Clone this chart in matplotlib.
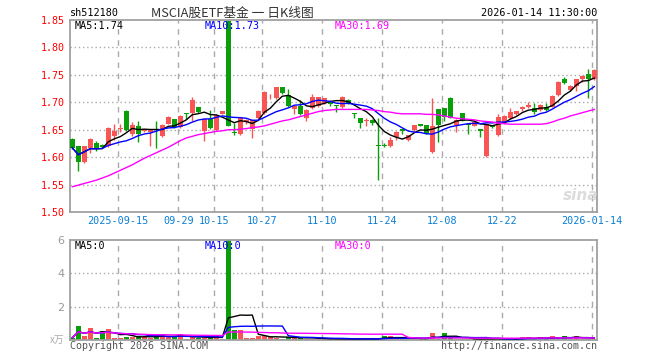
import numpy as np
import pandas as pd
import matplotlib
matplotlib.use("Agg")
import matplotlib.pyplot as plt

# ---------------- data ----------------
opens = [1.633, 1.620, 1.591, 1.617, 1.626, 1.623, 1.620, 1.638, 1.651, 1.685,
         1.642, 1.657, 1.648, 1.645, 1.650, 1.638, 1.661, 1.669, 1.655, 1.680,
         1.681, 1.691, 1.648, 1.669, 1.650, 1.679, 1.848, 1.645, 1.642, 1.664,
         1.652, 1.671, 1.680, 1.707, 1.707, 1.727, 1.713, 1.687, 1.694, 1.672,
         1.690, 1.693, 1.698, 1.701, 1.694, 1.691, 1.704, 1.679, 1.671, 1.665,
         1.668, 1.622, 1.622, 1.620, 1.637, 1.651, 1.632, 1.649, 1.660, 1.658,
         1.609, 1.687, 1.689, 1.708, 1.658, 1.680, 1.661, 1.657, 1.651, 1.602,
         1.658, 1.641, 1.662, 1.671, 1.678, 1.688, 1.691, 1.689, 1.686, 1.692,
         1.692, 1.713, 1.742, 1.722, 1.730, 1.742, 1.751, 1.742]
highs = [1.634, 1.621, 1.621, 1.634, 1.629, 1.624, 1.655, 1.660, 1.661, 1.686,
         1.664, 1.666, 1.652, 1.651, 1.666, 1.660, 1.675, 1.670, 1.677, 1.681,
         1.710, 1.692, 1.671, 1.686, 1.678, 1.685, 1.850, 1.662, 1.672, 1.670,
         1.670, 1.686, 1.720, 1.716, 1.728, 1.728, 1.725, 1.694, 1.704, 1.687,
         1.715, 1.710, 1.708, 1.703, 1.695, 1.711, 1.706, 1.680, 1.672, 1.672,
         1.669, 1.671, 1.625, 1.637, 1.647, 1.652, 1.641, 1.659, 1.661, 1.659,
         1.708, 1.688, 1.690, 1.709, 1.669, 1.681, 1.662, 1.665, 1.652, 1.662,
         1.659, 1.679, 1.676, 1.689, 1.685, 1.694, 1.701, 1.698, 1.696, 1.699,
         1.713, 1.738, 1.746, 1.731, 1.743, 1.749, 1.760, 1.760]
lows = [1.615, 1.575, 1.590, 1.608, 1.612, 1.617, 1.618, 1.631, 1.645, 1.648,
        1.638, 1.627, 1.646, 1.620, 1.617, 1.636, 1.660, 1.654, 1.653, 1.670,
        1.665, 1.680, 1.630, 1.651, 1.648, 1.678, 1.656, 1.640, 1.640, 1.661,
        1.635, 1.670, 1.679, 1.706, 1.706, 1.716, 1.692, 1.679, 1.677, 1.665,
        1.688, 1.692, 1.697, 1.693, 1.682, 1.690, 1.696, 1.672, 1.654, 1.657,
        1.658, 1.559, 1.618, 1.619, 1.631, 1.643, 1.630, 1.648, 1.656, 1.642,
        1.607, 1.628, 1.665, 1.671, 1.646, 1.665, 1.643, 1.656, 1.637, 1.600,
        1.654, 1.639, 1.661, 1.670, 1.677, 1.684, 1.689, 1.679, 1.685, 1.684,
        1.691, 1.712, 1.733, 1.721, 1.720, 1.737, 1.707, 1.741]
closes = [1.617, 1.592, 1.620, 1.633, 1.614, 1.619, 1.654, 1.647, 1.653, 1.649,
          1.659, 1.643, 1.651, 1.650, 1.649, 1.658, 1.673, 1.655, 1.675, 1.679,
          1.705, 1.682, 1.669, 1.653, 1.676, 1.684, 1.657, 1.644, 1.671, 1.668,
          1.667, 1.685, 1.718, 1.708, 1.727, 1.717, 1.693, 1.693, 1.679, 1.686,
          1.709, 1.709, 1.707, 1.697, 1.693, 1.710, 1.697, 1.678, 1.663, 1.667,
          1.663, 1.620, 1.621, 1.631, 1.646, 1.647, 1.640, 1.658, 1.657, 1.643,
          1.657, 1.658, 1.674, 1.672, 1.668, 1.666, 1.658, 1.664, 1.648, 1.661,
          1.655, 1.673, 1.675, 1.683, 1.684, 1.691, 1.695, 1.682, 1.695, 1.686,
          1.712, 1.737, 1.736, 1.730, 1.742, 1.748, 1.742, 1.759]
volumes = [0.14, 0.84, 0.24, 0.72, 0.14, 0.54, 0.66, 0.14, 0.14, 0.20,
           0.20, 0.24, 0.20, 0.14, 0.20, 0.36, 0.20, 0.20, 0.36, 0.06,
           0.20, 0.10, 0.20, 0.16, 0.20, 0.08, 6.00, 0.60, 0.60, 0.14,
           0.14, 0.24, 0.24, 0.20, 0.14, 0.08, 0.20, 0.14, 0.14, 0.08,
           0.08, 0.08, 0.08, 0.06, 0.06, 0.06, 0.06, 0.06, 0.08, 0.06,
           0.06, 0.10, 0.24, 0.24, 0.08, 0.06, 0.10, 0.16, 0.06, 0.06,
           0.44, 0.08, 0.44, 0.10, 0.08, 0.06, 0.06, 0.06, 0.06, 0.10,
           0.06, 0.08, 0.06, 0.06, 0.06, 0.16, 0.16, 0.06, 0.16, 0.06,
           0.24, 0.08, 0.24, 0.08, 0.24, 0.08, 0.08, 0.08]
ma30 = [1.546, 1.549, 1.552, 1.555, 1.558, 1.562, 1.566, 1.571, 1.576, 1.581,
        1.586, 1.592, 1.598, 1.603, 1.608, 1.613, 1.618, 1.624, 1.630, 1.635,
        1.638, 1.641, 1.643, 1.645, 1.647, 1.648, 1.650, 1.650, 1.651, 1.652,
        1.654, 1.655, 1.657, 1.660, 1.663, 1.666, 1.668, 1.671, 1.674, 1.677,
        1.680, 1.683, 1.685, 1.686, 1.687, 1.687, 1.687, 1.687, 1.687, 1.687,
        1.686, 1.685, 1.683, 1.682, 1.680, 1.679, 1.679, 1.679, 1.679, 1.678,
        1.678, 1.677, 1.675, 1.673, 1.671, 1.670, 1.669, 1.668, 1.666, 1.665,
        1.664, 1.662, 1.661, 1.660, 1.660, 1.660, 1.660, 1.660, 1.660, 1.661,
        1.664, 1.668, 1.671, 1.675, 1.678, 1.681, 1.684, 1.687]
holidays = ["2025-10-01", "2025-10-02", "2025-10-03", "2025-10-06",
            "2025-10-07", "2025-10-08", "2026-01-01", "2026-01-02"]
tick_dates = ["2025-09-15", "2025-09-29", "2025-10-15", "2025-10-27", "2025-11-10",
              "2025-11-24", "2025-12-08", "2025-12-22", "2026-01-14"]
tick_labels = ["2025-09-15", "09-29", "10-15", "10-27", "11-10",
               "11-24", "12-08", "12-22", "2026-01-14"]
price_ticks = [1.50, 1.55, 1.60, 1.65, 1.70, 1.75, 1.80, 1.85]
vol_ticks = [2, 4, 6]

# ---------------- derived ----------------
dates = [d.strftime("%Y-%m-%d") for d in pd.bdate_range("2025-09-03", "2026-01-14")
         if d.strftime("%Y-%m-%d") not in holidays]
n = len(closes)
x = np.arange(n)
o = np.array(opens); h = np.array(highs); l = np.array(lows); c = np.array(closes)
v = np.array(volumes)
ma5 = pd.Series(c).rolling(5, min_periods=1).mean()
ma10 = pd.Series(c).rolling(10, min_periods=1).mean()
vma5 = pd.Series(v).rolling(5, min_periods=1).mean()
vma10 = pd.Series(v).rolling(10, min_periods=1).mean()
vma30 = pd.Series(v).rolling(30, min_periods=1).mean()
tick_pos = [dates.index(d) - 0.35 for d in tick_dates]

RED = "#fa5555"
GREEN = "#0a9e0a"
GRID = "#aaaaaa"
SPINE = "#a0a0a0"
MONO = "DejaVu Sans Mono"
up = c >= o
cols = np.where(up, RED, GREEN)

W, H = 660, 360
fig = plt.figure(figsize=(6.6, 3.6), dpi=100)
fig.patch.set_facecolor("white")


def rect(lft, top, rgt, bot):
    return [lft / W, 1 - bot / H, (rgt - lft) / W, (bot - top) / H]


def ftext(px, py, s, **kw):
    fig.text(px / W, 1 - py / H, s, **kw)


ax = fig.add_axes(rect(70, 20, 597, 212))
axv = fig.add_axes(rect(70, 240, 597, 340))
xlim = (-0.383, 87.45)

for a in (ax, axv):
    a.set_xlim(*xlim)
    for s in a.spines.values():
        s.set_color(SPINE)
        s.set_linewidth(1.3)
    for tp in tick_pos:
        a.axvline(tp, color=GRID, lw=1, ls=(0, (4, 4)), zorder=0)

# ---- price panel ----
ax.set_ylim(1.50, 1.85)
for yv in price_ticks[1:-1]:
    ax.axhline(yv, color=GRID, lw=1, ls=(0, (1, 2)), zorder=0)
ax.vlines(x, l, h, colors=cols, lw=1, zorder=2)
body = np.maximum(np.abs(c - o), 0.0016)
ax.bar(x, body, bottom=np.minimum(o, c), width=0.8, color=cols, lw=0, zorder=3)
ax.plot(x, ma5, color="black", lw=1, zorder=4)
ax.plot(x, ma10, color="#0000ff", lw=1, zorder=4)
ax.plot(x, ma30, color="#ff00ff", lw=1, zorder=4)
ax.set_yticks(price_ticks)
ax.set_yticklabels([f"{t:.2f}" for t in price_ticks])
ax.tick_params(axis="y", length=0, pad=4, labelcolor="#ff0000", labelsize=7.2)
for t in ax.get_yticklabels():
    t.set_fontfamily(MONO)
ax.set_xticks(tick_pos)
ax.set_xticklabels(tick_labels)
ax.tick_params(axis="x", length=0, pad=3, labelcolor="#0a7fd4", labelsize=7.3)
for t in ax.get_xticklabels():
    t.set_fontfamily(MONO)

# ---- volume panel ----
axv.set_ylim(0, 6)
for yv in vol_ticks[:-1]:
    axv.axhline(yv, color=GRID, lw=1, ls=(0, (1, 2)), zorder=0)
axv.bar(x, v, width=0.8, color=cols, lw=0, zorder=2)
axv.plot(x, vma5, color="black", lw=1, zorder=3)
axv.plot(x, vma10, color="#0000ff", lw=1, zorder=3)
axv.plot(x, vma30, color="#ff00ff", lw=1, zorder=3)
axv.set_yticks(vol_ticks)
axv.set_yticklabels([str(t) for t in vol_ticks])
axv.tick_params(axis="y", length=0, pad=4, labelcolor="#999999", labelsize=8)
axv.set_xticks([])

# ---- texts ----
ftext(70, 13, "sh512180", fontsize=7.3, family=MONO, va="center", ha="left")
ftext(232, 13, "MSCIA股ETF基金 一 日K线图", fontsize=9.2,
      family=["Noto Sans CJK SC", "DejaVu Sans"], va="center", ha="center", color="#333333")
ftext(597, 13, "2026-01-14 11:30:00", fontsize=7.3, family=MONO, va="center", ha="right")

ftext(75, 26, "MA5:1.74", fontsize=7.3, family=MONO, va="center", color="black")
ftext(205, 26, "MA10:1.73", fontsize=7.3, family=MONO, va="center", color="#0000ff")
ftext(335, 26, "MA30:1.69", fontsize=7.3, family=MONO, va="center", color="#ff00ff")
ftext(75, 246, "MA5:0", fontsize=7.3, family=MONO, va="center", color="black")
ftext(205, 246, "MA10:0", fontsize=7.3, family=MONO, va="center", color="#0000ff")
ftext(335, 246, "MA30:0", fontsize=7.3, family=MONO, va="center", color="#ff00ff")

ftext(64, 340, "x万", fontsize=7, family=["Noto Sans CJK SC", "DejaVu Sans"],
      va="center", ha="right", color="#aaaaaa")
ftext(70, 346, "Copyright 2026 SINA.COM", fontsize=7.2, family=MONO, va="center",
      ha="left", color="#555555")
ftext(597, 346, "http://finance.sina.com.cn", fontsize=7.2, family=MONO, va="center",
      ha="right", color="#555555")
ftext(581, 196, "sina", fontsize=11, family="DejaVu Sans", style="italic",
      weight="bold", va="center", ha="center", color="#dcdcdc")

fig.savefig("out.png", dpi=100)
